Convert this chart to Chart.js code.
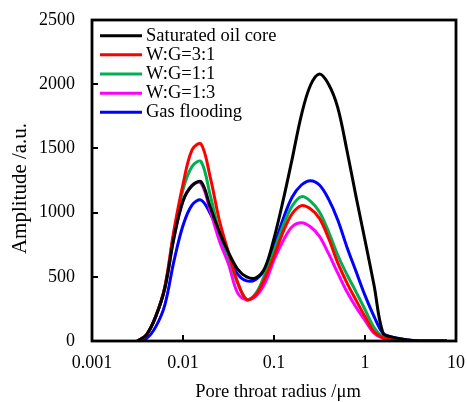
<!DOCTYPE html>
<html>
<head>
<meta charset="utf-8">
<title>Pore throat radius distribution</title>
<script src="https://cdn.jsdelivr.net/npm/chart.js@4.4.0/dist/chart.umd.min.js"></script>
<style>
  html, body { margin: 0; padding: 0; background: #fff; }
  #wrap { width: 467px; height: 402px; }
</style>
</head>
<body>
<div id="wrap"><canvas id="nmrChart" width="467" height="402"></canvas></div>
<script>
// Pore throat radius (um), log spaced
const radius = [0.00316, 0.00398, 0.00501, 0.00631, 0.00794, 0.01, 0.0126, 0.0158, 0.02, 0.0251,
                0.0316, 0.0398, 0.0501, 0.0631, 0.0794, 0.1, 0.126, 0.158, 0.2, 0.251,
                0.316, 0.398, 0.501, 0.631, 0.794, 1, 1.26, 1.58, 2, 2.51,
                3.16, 3.98, 5.01, 6.31, 7.94];

// Amplitude (a.u.) for each test
const saturatedOil = [0, 50, 190, 410, 800, 1090, 1210, 1240, 1040, 850,
                      690, 560, 500, 492, 570, 800, 1095, 1415, 1760, 1990,
                      2080, 2000, 1820, 1490, 1130, 785, 430, 60, 30, 15,
                      5, 0, 0, 0, 0];
const wg31 = [0, 50, 190, 420, 860, 1220, 1490, 1534, 1270, 940,
              690, 460, 322, 360, 490, 660, 850, 990, 1054, 1030,
              955, 800, 610, 455, 320, 190, 70, 25, 10, 3,
              0, 0, 0, 0, 0];
const wg11 = [0, 50, 190, 420, 840, 1180, 1360, 1397, 1130, 850,
              660, 450, 322, 370, 520, 700, 900, 1050, 1124, 1090,
              1005, 850, 670, 520, 385, 245, 105, 30, 15, 5,
              0, 0, 0, 0, 0];
const wg13 = [0, 50, 190, 410, 800, 1090, 1215, 1228, 1010, 780,
              600, 375, 322, 350, 450, 631, 780, 890, 921, 890,
              815, 680, 530, 385, 265, 160, 60, 20, 8, 3,
              0, 0, 0, 0, 0];
const gasFlooding = [0, 20, 110, 280, 620, 900, 1060, 1098, 990, 830,
                     660, 520, 468, 480, 560, 740, 950, 1120, 1215, 1249,
                     1215, 1105, 945, 735, 545, 355, 190, 60, 30, 15,
                     5, 0, 0, 0, 0];

const seriesLabels = ['Saturated oil core', 'W:G=3:1', 'W:G=1:1', 'W:G=1:3', 'Gas flooding'];
const seriesColors = ['#000000', '#FF0000', '#00B050', '#FF00FF', '#0000FF'];
const seriesValues = [saturatedOil, wg31, wg11, wg13, gasFlooding];

const xTicks = [0.001, 0.01, 0.1, 1, 10];
const yTicks = [0, 500, 1000, 1500, 2000, 2500];
const xTitle = 'Pore throat radius /\u03bcm';
const yTitle = 'Amplitude /a.u.';

const FONT = "'Liberation Serif', 'Times New Roman', serif";

// frame, inward ticks, axis titles and the legend inside the plot
const decorations = {
  id: 'decorations',
  afterDraw(chart) {
    const area = chart.chartArea;
    const xs = chart.scales.x;
    const ys = chart.scales.y;
    const c = chart.ctx;
    c.save();

    c.strokeStyle = '#000';
    c.lineWidth = 2.8;
    c.strokeRect(area.left, area.top, area.right - area.left, area.bottom - area.top);
    c.lineWidth = 2;
    c.beginPath();
    xTicks.slice(1, -1).forEach(v => {
      const px = Math.round(xs.getPixelForValue(v));
      c.moveTo(px, area.bottom);
      c.lineTo(px, area.bottom - 6);
    });
    yTicks.slice(1, -1).forEach(v => {
      const py = Math.round(ys.getPixelForValue(v));
      c.moveTo(area.left, py);
      c.lineTo(area.left + 6, py);
    });
    c.stroke();

    // axis titles
    c.fillStyle = '#000';
    c.textAlign = 'center';
    c.textBaseline = 'middle';
    c.font = '18.5px ' + FONT;
    c.fillText(xTitle, (area.left + area.right) / 2 + 4, 392);
    c.save();
    c.translate(20, (area.top + area.bottom) / 2 + 8);
    c.rotate(-Math.PI / 2);
    c.font = '21px ' + FONT;
    c.fillText(yTitle, 0, 0);
    c.restore();

    // legend
    c.textAlign = 'left';
    c.font = '18.5px ' + FONT;
    chart.data.datasets.forEach((ds, i) => {
      const yy = area.top + 15.7 + i * 19.15;
      c.strokeStyle = ds.borderColor;
      c.lineWidth = 3;
      c.beginPath();
      c.moveTo(area.left + 8, yy);
      c.lineTo(area.left + 50, yy);
      c.stroke();
      c.fillText(ds.label, area.left + 54, yy);
    });
    c.restore();
  }
};

const datasets = seriesLabels.map((label, i) => ({
  label: label,
  data: radius.map((r, j) => ({ x: r, y: seriesValues[i][j] })),
  borderColor: seriesColors[i],
  backgroundColor: seriesColors[i],
  borderWidth: 3,
  pointRadius: 0,
  fill: false,
  tension: 0.35
}));

const ctx = document.getElementById('nmrChart').getContext('2d');
new Chart(ctx, {
  type: 'line',
  data: { datasets: datasets },
  options: {
    responsive: false,
    animation: false,
    layout: { padding: { left: 0, right: 11, top: 20, bottom: 0 } },
    plugins: {
      legend: { display: false },
      tooltip: { enabled: false }
    },
    scales: {
      x: {
        type: 'logarithmic',
        min: 0.001,
        max: 10,
        afterBuildTicks: scale => { scale.ticks = xTicks.map(v => ({ value: v })); },
        afterFit: scale => { scale.height = 61; },
        grid: { display: false, drawTicks: true, tickLength: 11 },
        border: { display: false },
        ticks: {
          color: '#000',
          font: { family: FONT, size: 18 },
          padding: 0,
          maxRotation: 0,
          autoSkip: false,
          callback: v => String(v)
        }
      },
      y: {
        type: 'linear',
        min: 0,
        max: 2500,
        afterBuildTicks: scale => { scale.ticks = yTicks.map(v => ({ value: v })); },
        afterFit: scale => { scale.width = 92; },
        grid: { display: false, drawTicks: true, tickLength: 17 },
        border: { display: false },
        ticks: {
          color: '#000',
          font: { family: FONT, size: 18 },
          padding: 0,
          callback: v => String(v)
        }
      }
    }
  },
  plugins: [decorations]
});
</script>
</body>
</html>
